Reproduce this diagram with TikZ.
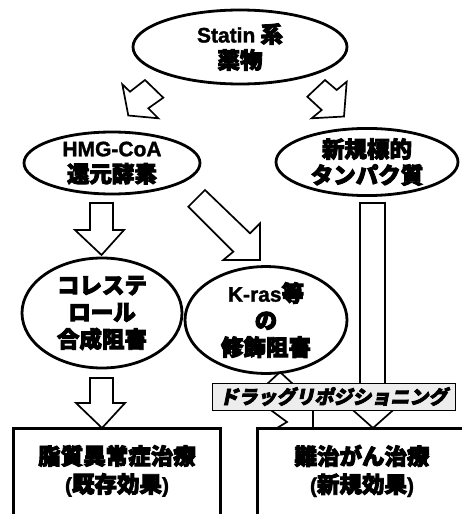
\documentclass[tikz,border=0pt]{standalone}
\usepackage{fontspec}
\setmainfont{Liberation Sans}
\newfontfamily\jp{Noto Sans CJK JP}[BoldFeatures={FakeBold=4}]
\newfontfamily\lat{Liberation Sans}[BoldFeatures={FakeBold=1.5}]
\newfontfamily\jpsl{Noto Sans CJK JP}[FakeSlant=0.2, BoldFeatures={FakeBold=4}]
\newcommand\latt[1]{{\lat\fontsize{21}{26}\selectfont #1}}
\usetikzlibrary{shapes.geometric}
\tikzset{
  ell/.style={draw, ellipse, fill=white, line width=2.8pt, inner sep=0pt, align=center,
    font={\jp\bfseries\fontsize{22.5}{26}\selectfont}},
  ellthree/.style={ell, font={\jp\bfseries\fontsize{22.5}{27}\selectfont}},
  blk/.style={draw, fill=white, line width=1.7pt, line join=miter},
  resbox/.style={draw, line width=3pt, inner sep=0pt},
  restext/.style={align=center, inner sep=0pt, font={\jp\bfseries\fontsize{22.5}{28}\selectfont}},
  tagbox/.style={draw, fill=black!7, line width=0.9pt, inner sep=0pt,
    font={\jpsl\bfseries\fontsize{19}{22}\selectfont}}
}
\begin{document}
\begin{tikzpicture}[x=1pt,y=-1pt]
\useasboundingbox (0,0) rectangle (461,514);
% block arrows
\draw[blk] (122.3,84.3) -- (130,91.7) -- (145,80) -- (163.3,97.7) -- (148.3,108.3) -- (158.3,118.3) -- (128.3,115.5) -- cycle;
\draw[blk] (325,80) -- (336.7,90) -- (346.7,81.7) -- (344,116.5) -- (311.7,118.3) -- (321.7,110) -- (307.3,96.7) -- cycle;
\draw[blk] (90,203) -- (113,203) -- (113,230) -- (124,230) -- (101.5,255) -- (75,230) -- (90,230) -- cycle;
\draw[blk] (205,190) -- (250,233.3) -- (260,223.3) -- (260,260) -- (223.3,260) -- (233.3,251.7) -- (188.3,206.7) -- cycle;
\draw[blk] (90,378) -- (113,378) -- (113,403) -- (125,403) -- (102,428) -- (76,403) -- (90,403) -- cycle;
\draw[blk] (360,203) -- (385,203) -- (385,404) -- (400,404) -- (373,428) -- (346,404) -- (360,404) -- cycle;
\draw[blk] (280,372) -- (294,385) -- (313,385) -- (313,428) -- (277,428) -- (287,422) -- (268,408) -- (266,385) -- cycle;
% ellipses
\node[ell, minimum width=214, minimum height=74] (statin) at (240,47) {\latt{Statin} 系\\薬物};
\node[ell, minimum width=176, minimum height=62] (hmg) at (112,163) {\latt{HMG-CoA}\\還元酵素};
\node[ell, minimum width=182, minimum height=62] (target) at (367,162) {新規標的\\タンパク質};
\node[ellthree, minimum width=160, minimum height=110] (chol) at (102,313) {コレステ\\ロール\\合成阻害};
\node[ellthree, minimum width=162, minimum height=104] (kras) at (266,320) {\latt{K-ras}等\\の\\修飾阻害};
% result boxes
\node[resbox, minimum width=207, minimum height=102] (lipid) at (116.5,479) {};
\node[restext] (lipidtxt) at (117,471) {脂質異常症治療\\\latt{(}既存効果\latt{)}};
\node[resbox, minimum width=218, minimum height=102] (cancer) at (366,479) {};
\node[restext] (cancertxt) at (362,471) {難治がん治療\\\latt{(}新規効果\latt{)}};
% label
\node[tagbox, minimum width=243, minimum height=27] (repos) at (333.5,396.5) {ドラッグリポジショニング};
\end{tikzpicture}
\end{document}
